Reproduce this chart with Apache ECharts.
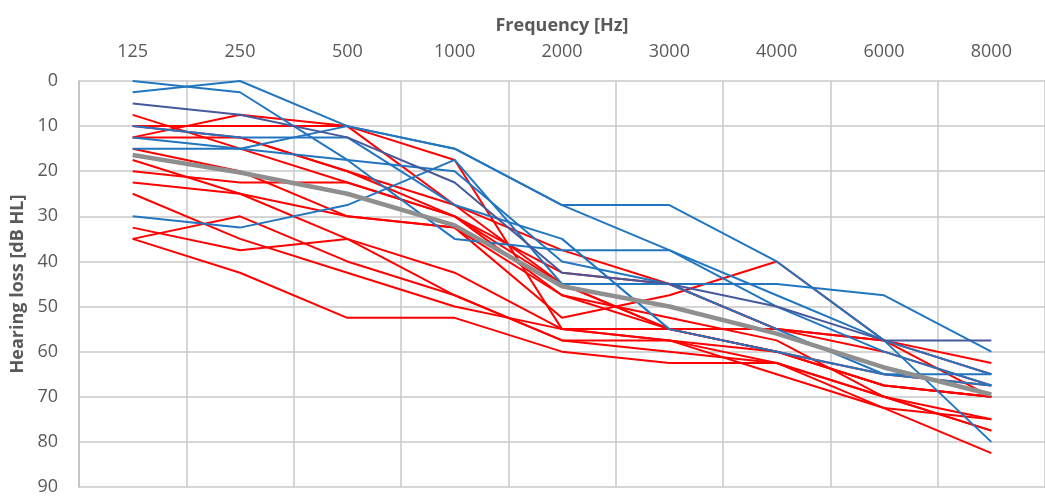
<!DOCTYPE html>
<html>
<head>
<meta charset="utf-8">
<script src="https://cdn.jsdelivr.net/npm/echarts@6/dist/echarts.min.js"></script>
<style>
  html, body { margin: 0; padding: 0; background: #fff; }
  #main { width: 1045px; height: 496px; }
</style>
</head>
<body>
<div id="main"></div>
<script>
// Frequencies (category axis, top)
const frequencies = ["125", "250", "500", "1000", "2000", "3000", "4000", "6000", "8000"];

// Hearing loss per ear, dB HL
const redLines = [
  [7.5, 15, 22.5, 30, 47.5, 55, 60, 67.5, 70],
  [10, 10, 10, 17.5, 55, 57.5, 60, 65, 67.5],
  [12.5, 7.5, 10, 27.5, 45, 55, 55, 57.5, 62.5],
  [10, 12.5, 20, 30, 42.5, 45, 55, 57.5, 65],
  [15, 20, 30, 32.5, 47.5, 52.5, 57.5, 70, 75],
  [17.5, 25, 35, 47.5, 57.5, 57.5, 62.5, 70, 77.5],
  [20, 22.5, 22.5, 30, 45, 55, 60, 67.5, 70],
  [22.5, 25, 30, 32.5, 52.5, 47.5, 40, 57.5, 70],
  [25, 35, 42.5, 50, 55, 55, 60, 67.5, 70],
  [32.5, 37.5, 35, 42.5, 55, 57.5, 65, 72.5, 82.5],
  [35, 30, 40, 47.5, 57.5, 60, 62.5, 70, 77.5],
  [35, 42.5, 52.5, 52.5, 60, 62.5, 62.5, 72.5, 75],
  [12.5, 12.5, 20, 27.5, 37.5, 45, 55, 60, 67.5]
];

const blueLines = [
  [0, 2.5, 17.5, 35, 37.5, 37.5, 50, 60, 67.5],
  [2.5, 0, 10, 15, 27.5, 27.5, 40, 57.5, 80],
  [15, 15, 10, 15, 27.5, 37.5, 47.5, 57.5, 65],
  [10, 12.5, 12.5, 27.5, 35, 55, 60, 65, 67.5],
  [12.5, 15, 17.5, 20, 40, 45, 55, 65, 65],
  [30, 32.5, 27.5, 17.5, 45, 45, 45, 47.5, 60]
];

const slateLine = [5, 7.5, 12.5, 22.5, 42.5, 45, 50, 57.5, 57.5];

const meanLine = [16.4, 20.3, 25, 32, 45.5, 50, 56, 63.5, 69.5];

const yTicks = { min: 0, max: 90, step: 10 };

const chart = echarts.init(document.getElementById("main"));

function lineSeries(data, color, width) {
  return {
    type: "line",
    data: data,
    symbol: "none",
    silent: true,
    lineStyle: { color: color, width: width },
    itemStyle: { color: color }
  };
}

const series = [];
redLines.forEach((d) => series.push(lineSeries(d, "#ff0000", 2)));
blueLines.forEach((d) => series.push(lineSeries(d, "#2276c0", 2)));
series.push(lineSeries(slateLine, "#46599b", 2));
series.push(lineSeries(meanLine, "#8f8f8f", 4.5));

chart.setOption({
  animation: false,
  textStyle: { fontFamily: "Open Sans" },
  grid: { left: 79, width: 978, top: 81, bottom: 5 },
  xAxis: {
    type: "category",
    position: "top",
    data: frequencies,
    boundaryGap: true,
    name: "Frequency [Hz]",
    nameLocation: "middle",
    nameGap: 46,
    nameTextStyle: { fontSize: 18, fontWeight: "bold", color: "#595959" },
    axisLine: { show: false },
    axisTick: { show: false },
    axisLabel: { color: "#595959", fontSize: 18, margin: 20 },
    splitLine: { show: true, lineStyle: { color: "#c8c8c8", width: 1.5 } }
  },
  yAxis: {
    type: "value",
    inverse: true,
    min: yTicks.min,
    max: yTicks.max,
    interval: yTicks.step,
    name: "Hearing loss [dB HL]",
    nameLocation: "middle",
    nameGap: 48,
    nameTextStyle: { fontSize: 18, fontWeight: "bold", color: "#595959" },
    axisLine: { show: true, lineStyle: { color: "#bfbfbf", width: 1.5 } },
    axisTick: { show: false },
    axisLabel: { color: "#595959", fontSize: 18, margin: 21 },
    splitLine: { show: true, lineStyle: { color: "#c8c8c8", width: 1.5 } }
  },
  series: series
});
</script>
</body>
</html>
